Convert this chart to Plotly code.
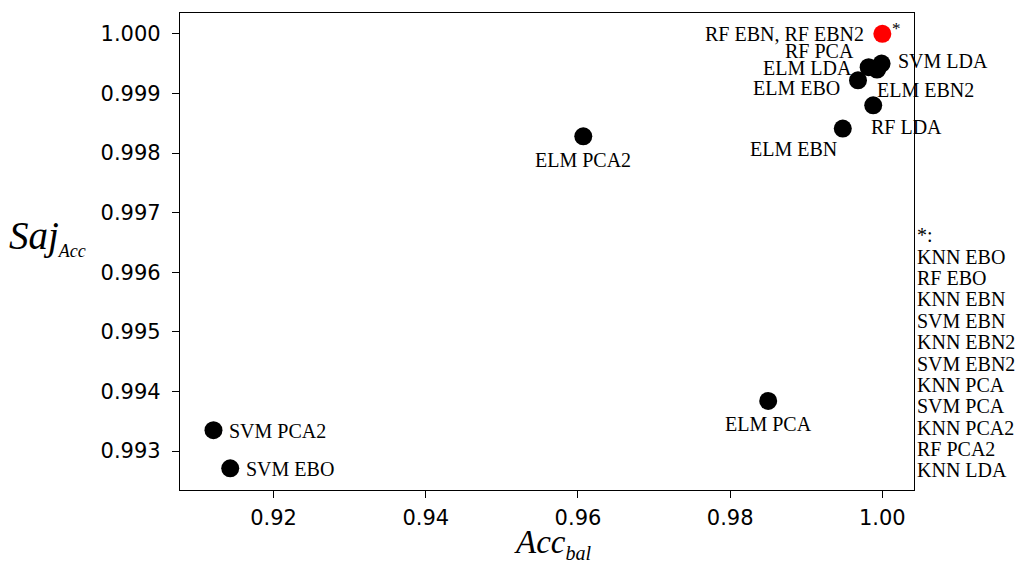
import plotly.graph_objects as go

# ---- data ----
labels = ["RF EBN, RF EBN2", "SVM LDA", "ELM LDA", "RF PCA", "ELM EBN2", "ELM EBO",
          "RF LDA", "ELM EBN", "ELM PCA2", "ELM PCA", "SVM PCA2", "SVM EBO"]
acc_bal = [1.0000, 0.9999, 0.9982, 0.9993, 0.9993, 0.9968,
           0.9988, 0.9948, 0.9607, 0.9850, 0.9121, 0.9143]
saj_acc = [1.00000, 0.99950, 0.99944, 0.99941, 0.99940, 0.99922,
           0.99880, 0.99841, 0.99828, 0.99384, 0.99335, 0.99271]
star_list = ["KNN EBO", "RF EBO", "KNN EBN", "SVM EBN", "KNN EBN2", "SVM EBN2",
             "KNN PCA", "SVM PCA", "KNN PCA2", "RF PCA2", "KNN LDA"]
x_ticks = [0.92, 0.94, 0.96, 0.98, 1.00]
y_ticks = [0.993, 0.994, 0.995, 0.996, 0.997, 0.998, 0.999, 1.000]

# ---- label placement (pixels) ----
label_pos = {
    "RF EBN, RF EBN2": ("right", -16, 0),
    "SVM LDA": ("left", 14, 3),
    "ELM LDA": ("right", -15, -1),
    "RF PCA": ("right", -21, 18),
    "ELM EBN2": ("left", -2, -20),
    "ELM EBO": ("right", -16, -8),
    "RF LDA": ("left", -4, -22),
    "ELM EBN": ("right", -4, -20),
    "ELM PCA2": ("center", 0, -24),
    "ELM PCA": ("center", 0, -23),
    "SVM PCA2": ("left", 14, -1),
    "SVM EBO": ("left", 14, -1),
}

SERIF = "Liberation Serif"
LBL = 20
colors = ["red"] + ["black"] * (len(labels) - 1)

fig = go.Figure()
fig.add_trace(go.Scatter(
    x=acc_bal, y=saj_acc, mode="markers",
    marker=dict(size=18, color=colors, line=dict(width=0)),
    showlegend=False, hoverinfo="skip"))

ann = []
for name, xv, yv in zip(labels, acc_bal, saj_acc):
    anc, dx, dy = label_pos[name]
    ann.append(dict(x=xv, y=yv, xref="x", yref="y", text=name, showarrow=False,
                    xanchor=anc, yanchor="middle", xshift=dx, yshift=dy,
                    font=dict(family=SERIF, size=LBL, color="black")))
# star marker next to the red point
ann.append(dict(x=acc_bal[0], y=saj_acc[0], xref="x", yref="y", text="*", showarrow=False,
                xanchor="left", yanchor="middle", xshift=8, yshift=5,
                font=dict(family=SERIF, size=17, color="black")))

# list on the right
plot_top, plot_bot = 12.5, 490.0
first_px, step_px = 235.0, 21.4
items = ["*:"] + star_list
for i, t in enumerate(items):
    ypx = first_px + i * step_px
    ann.append(dict(x=1, y=(plot_bot - ypx) / (plot_bot - plot_top), xref="paper", yref="paper",
                    text=t, showarrow=False, xanchor="left", yanchor="middle", xshift=1,
                    font=dict(family=SERIF, size=LBL, color="black")))

# axis titles
ann.append(dict(x=-0.236, y=0.53, xref="paper", yref="paper",
                text='<i>Saj</i><sub><span style="font-size:18px"><i>Acc</i></span></sub>',
                showarrow=False, xanchor="left", yanchor="middle",
                font=dict(family=SERIF, size=39, color="black")))
ann.append(dict(x=0.508, y=-0.113, xref="paper", yref="paper",
                text='<i>Acc</i><sub><span style="font-size:20px"><i>bal</i></span></sub>',
                showarrow=False, xanchor="center", yanchor="middle",
                font=dict(family=SERIF, size=33, color="black")))

axis_common = dict(showline=True, linecolor="black", linewidth=1.3, mirror=True,
                   ticks="outside", ticklen=7, tickwidth=1.2, tickcolor="black",
                   showgrid=False, zeroline=False,
                   tickfont=dict(family="DejaVu Sans", size=21, color="black"))

fig.update_layout(
    width=1015, height=565,
    margin=dict(l=180, r=101, t=13, b=75),
    plot_bgcolor="white", paper_bgcolor="white",
    xaxis=dict(range=[0.9077, 1.00416], tickvals=x_ticks,
               ticktext=[f"{v:.2f}" for v in x_ticks], ticklabelstandoff=2, **axis_common),
    yaxis=dict(range=[0.992346, 1.000349], tickvals=y_ticks,
               ticktext=[f"{v:.3f}" for v in y_ticks], ticklabelstandoff=7, **axis_common),
    annotations=ann,
)

fig.write_html("out.html")
